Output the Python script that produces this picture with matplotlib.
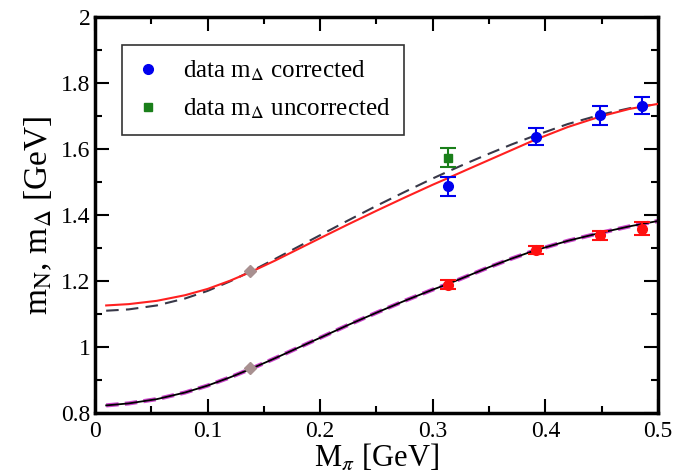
import matplotlib
matplotlib.use("Agg")
import matplotlib.pyplot as plt
from matplotlib.ticker import MultipleLocator, FuncFormatter
from matplotlib.lines import Line2D

plt.rcParams['font.family'] = ['Liberation Serif', 'DejaVu Serif']
plt.rcParams['mathtext.fontset'] = 'stix'

# Curves
curve_x = [0.01, 0.03, 0.055, 0.08, 0.10, 0.12, 0.14, 0.16, 0.18, 0.20, 0.225, 0.25, 0.275, 0.30, 0.3135, 0.33, 0.35, 0.37, 0.39, 0.42, 0.45, 0.475, 0.50]
delta_solid = [1.126, 1.130, 1.140, 1.157, 1.176, 1.201, 1.230, 1.262, 1.296, 1.330, 1.372, 1.413, 1.453, 1.492, 1.512, 1.537, 1.567, 1.597, 1.627, 1.667, 1.700, 1.722, 1.737]
delta_dashed = [1.110, 1.114, 1.126, 1.147, 1.170, 1.199, 1.232, 1.267, 1.303, 1.339, 1.384, 1.428, 1.470, 1.511, 1.532, 1.557, 1.586, 1.614, 1.640, 1.676, 1.705, 1.724, 1.737]
nuc_solid = [0.823, 0.829, 0.842, 0.862, 0.883, 0.908, 0.936, 0.966, 0.997, 1.028, 1.067, 1.104, 1.140, 1.174, 1.191, 1.214, 1.242, 1.268, 1.292, 1.322, 1.347, 1.366, 1.382]
nuc_dashed = nuc_solid

# Physical points
phys_x = [0.138, 0.138]
phys_y = [1.231, 0.937]

# Data
mpi = [0.3135, 0.392, 0.4485, 0.486]
delta_corr = [1.487, 1.637, 1.702, 1.731]
delta_corr_err = [0.029, 0.026, 0.029, 0.026]
unc_x = [0.3135]
delta_unc = [1.574]
delta_unc_err = [0.029]
nuc = [1.189, 1.294, 1.339, 1.359]
nuc_err = [0.014, 0.012, 0.014, 0.019]

fig = plt.figure(figsize=(6.78, 4.76), dpi=100)
ax = fig.add_axes([0.140, 0.1324, 0.8305, 0.8316])

ax.plot(curve_x, nuc_dashed, color='#cc44cc', lw=3.0, ls=(0, (3, 1.5)), zorder=2)
ax.plot(curve_x, nuc_solid, color='black', lw=1.3, zorder=3)
ax.plot(curve_x, delta_dashed, color='#383848', lw=1.5, ls=(0, (6, 3.5)), zorder=2)
ax.plot(curve_x, delta_solid, color='#ff2020', lw=1.5, zorder=3)
ax.plot(phys_x, phys_y, ls='none', marker='D', ms=6, color='#a89090', zorder=4)

ax.errorbar(mpi, delta_corr, yerr=delta_corr_err, fmt='o', color='#0000ee', ms=7,
            capsize=6, elinewidth=1.5, capthick=1.5, zorder=5)
ax.errorbar(unc_x, delta_unc, yerr=delta_unc_err, fmt='s', color='#1a7f1a', ms=6,
            capsize=6, elinewidth=1.5, capthick=1.5, zorder=5)
ax.errorbar(mpi, nuc, yerr=nuc_err, fmt='o', color='#ff1010', ms=7,
            capsize=6, elinewidth=1.5, capthick=1.5, zorder=5)

ax.set_xlim(0, 0.5)
ax.set_ylim(0.8, 2.0)
ax.xaxis.set_major_locator(MultipleLocator(0.1))
ax.xaxis.set_minor_locator(MultipleLocator(0.05))
ax.yaxis.set_major_locator(MultipleLocator(0.2))
ax.yaxis.set_minor_locator(MultipleLocator(0.1))
fmt = FuncFormatter(lambda v, p: ('%g' % round(v, 3)))
ax.xaxis.set_major_formatter(fmt)
ax.yaxis.set_major_formatter(fmt)
ax.tick_params(which='both', direction='in', top=True, right=True, labelsize=17, width=1.5)
ax.tick_params(which='major', length=10)
ax.tick_params(which='minor', length=5)
ax.tick_params(axis='x', pad=6)
ax.tick_params(axis='y', pad=3)
for s in ax.spines.values():
    s.set_linewidth(2.5)

ax.set_xlabel(r'M$_\pi$ [GeV]', fontsize=22, labelpad=0)
ax.set_ylabel(r'm$_\mathrm{N}$, m$_\Delta$ [GeV]', fontsize=24, labelpad=5)

handles = [
    Line2D([], [], ls='none', marker='o', ms=7, color='#0000ee'),
    Line2D([], [], ls='none', marker='s', ms=6, color='#1a7f1a'),
]
labels = [r'data m$_\Delta$ corrected', r'data m$_\Delta$ uncorrected']
leg = ax.legend(handles, labels, loc='upper left', bbox_to_anchor=(0.048, 0.929), borderaxespad=0,
                fontsize=18, frameon=True, fancybox=False, edgecolor='black',
                handlelength=1.0, handletextpad=0.9, borderpad=0.55, labelspacing=0.55)
leg.get_frame().set_linewidth(1.2)

fig.savefig('out.png', dpi=100)
